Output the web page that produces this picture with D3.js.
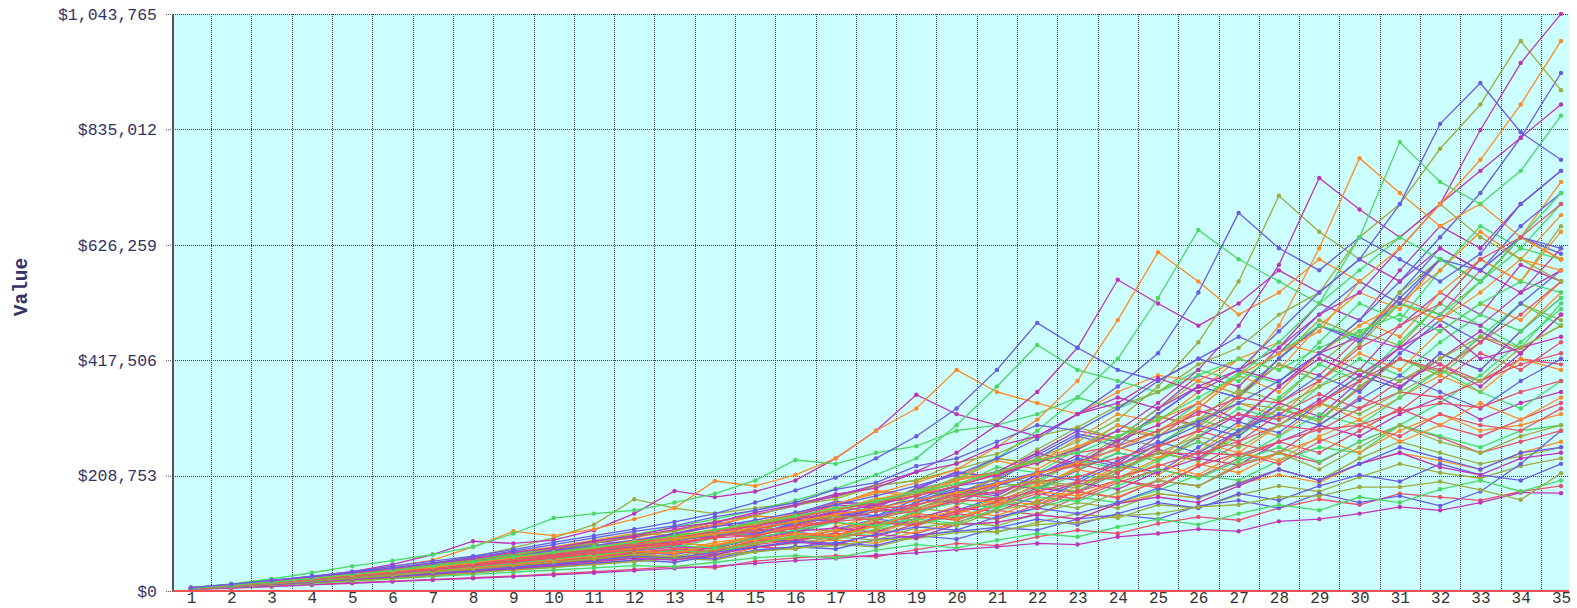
<!DOCTYPE html>
<html>
<head>
<meta charset="utf-8">
<script src="https://cdn.jsdelivr.net/npm/d3@7"></script>
<style>
  body { margin: 0; background: #fff; }
  .tick text { font-family: 'Liberation Mono', 'DejaVu Sans Mono', monospace; }
</style>
</head>
<body>
<div class="graph"><svg></svg></div>
<script>
// years on the category axis
const years = [1, 2, 3, 4, 5, 6, 7, 8, 9, 10, 11, 12, 13, 14, 15, 16, 17, 18, 19, 20,
  21, 22, 23, 24, 25, 26, 27, 28, 29, 30, 31, 32, 33, 34, 35]
const yTicks = [0, 208753, 417506, 626259, 835012, 1043765]

// simulated portfolio values, in thousands of dollars
const blueA = [6, 12, 19, 26, 34, 42, 51, 61, 72, 84, 96, 108, 118, 134, 146, 160, 184, 196, 226, 240, 270, 300, 290, 330, 380, 420, 400, 470, 540, 600, 700, 845, 919, 830, 780]
const greenA = [5, 10, 16, 23, 30, 37, 45, 53, 62, 70, 80, 88, 100, 110, 124, 136, 150, 162, 180, 194, 215, 236, 250, 280, 310, 350, 390, 450, 520, 640, 812, 740, 700, 760, 860]
const orangeA = [5, 11, 17, 23, 29, 36, 43, 51, 60, 70, 79, 90, 98, 110, 122, 136, 148, 166, 180, 200, 215, 236, 262, 280, 310, 340, 390, 430, 470, 560, 620, 700, 780, 880, 995]
const magentaA = [5, 11, 18, 25, 33, 41, 50, 58, 70, 78, 90, 100, 115, 124, 142, 156, 175, 186, 215, 230, 262, 280, 320, 340, 385, 360, 400, 440, 500, 540, 620, 700, 834, 955, 1044]
const oliveA = [5, 10, 16, 23, 30, 38, 46, 56, 64, 77, 86, 100, 108, 126, 136, 156, 166, 190, 200, 232, 248, 280, 296, 335, 360, 410, 440, 500, 540, 640, 700, 800, 880, 995, 906]
const redA = [4, 9, 15, 21, 28, 34, 41, 49, 58, 66, 75, 86, 98, 108, 118, 132, 148, 160, 172, 190, 212, 236, 250, 262, 290, 320, 350, 340, 380, 440, 480, 520, 600, 640, 700]

const blueB = [5, 11, 17, 24, 31, 38, 46, 55, 64, 73, 82, 92, 104, 116, 128, 142, 156, 172, 190, 210, 240, 275, 320, 370, 430, 540, 684, 620, 580, 640, 600, 560, 610, 700, 760]
const greenB = [5, 10, 16, 22, 29, 36, 43, 51, 60, 69, 78, 88, 99, 110, 121, 134, 148, 164, 182, 202, 240, 290, 350, 420, 530, 653, 600, 560, 520, 580, 640, 600, 560, 640, 720]
const orangeB = [5, 11, 17, 24, 31, 38, 46, 54, 62, 70, 78, 86, 94, 104, 114, 126, 138, 150, 164, 178, 194, 212, 232, 256, 290, 330, 390, 480, 620, 783, 720, 660, 700, 640, 600]
const magentaB = [4, 10, 16, 22, 29, 36, 44, 52, 60, 69, 78, 88, 98, 108, 118, 130, 142, 156, 172, 190, 210, 232, 256, 290, 340, 400, 480, 590, 747, 690, 640, 700, 760, 820, 880]
const oliveB = [5, 10, 15, 21, 28, 35, 42, 50, 58, 67, 76, 86, 96, 108, 120, 133, 146, 160, 176, 194, 214, 240, 270, 310, 370, 450, 560, 715, 650, 600, 640, 700, 640, 600, 560]
const redB = [5, 10, 16, 22, 28, 35, 42, 48, 54, 64, 74, 82, 88, 96, 112, 126, 140, 148, 156, 172, 192, 214, 226, 240, 262, 290, 320, 310, 340, 380, 420, 400, 450, 500, 560]

const blueC = [6, 12, 19, 27, 35, 45, 54, 63, 75, 88, 100, 112, 125, 140, 160, 182, 205, 240, 280, 330, 400, 485, 440, 400, 380, 420, 460, 430, 500, 560, 520, 600, 580, 640, 620]
const greenC = [5, 11, 17, 24, 32, 40, 48, 57, 67, 78, 90, 102, 116, 130, 146, 164, 185, 210, 240, 300, 370, 445, 400, 380, 360, 400, 380, 430, 480, 460, 520, 500, 560, 620, 600]
const orangeC = [5, 10, 16, 22, 29, 36, 43, 51, 60, 69, 78, 88, 98, 110, 124, 140, 158, 176, 196, 220, 260, 310, 380, 490, 613, 560, 500, 540, 600, 560, 520, 580, 650, 600, 680]
const magentaC = [5, 11, 17, 24, 31, 39, 47, 56, 65, 75, 86, 98, 111, 124, 138, 154, 172, 192, 216, 250, 300, 360, 440, 563, 520, 480, 520, 580, 540, 600, 560, 620, 580, 540, 620]
const oliveC = [5, 10, 15, 21, 27, 34, 41, 48, 56, 64, 73, 82, 92, 102, 112, 124, 136, 130, 150, 170, 186, 200, 190, 220, 250, 280, 260, 300, 340, 320, 360, 400, 380, 440, 480]
const redC = [4, 9, 14, 20, 26, 33, 40, 47, 54, 62, 70, 79, 88, 98, 108, 118, 128, 144, 150, 168, 180, 198, 206, 230, 250, 248, 270, 300, 290, 330, 360, 350, 380, 410, 430]

const blueD = [5, 10, 15, 21, 27, 33, 40, 47, 55, 63, 72, 81, 91, 101, 112, 124, 136, 150, 165, 180, 196, 214, 234, 256, 280, 306, 340, 380, 430, 490, 560, 640, 720, 820, 937]
const greenD = [6, 13, 22, 33, 45, 55, 66, 80, 104, 132, 140, 146, 160, 176, 200, 237, 230, 250, 262, 290, 300, 320, 350, 330, 360, 390, 420, 400, 440, 470, 500, 470, 520, 560, 540]
const orangeD = [5, 11, 18, 26, 34, 44, 56, 80, 108, 100, 112, 130, 150, 199, 190, 210, 240, 290, 330, 400, 360, 340, 320, 360, 390, 380, 420, 450, 430, 480, 520, 490, 540, 600, 580]
const magentaD = [5, 11, 18, 26, 35, 48, 66, 90, 86, 92, 110, 140, 181, 170, 180, 200, 240, 290, 355, 320, 300, 280, 320, 350, 330, 370, 400, 380, 430, 460, 440, 500, 480, 540, 580]
const oliveD = [5, 10, 16, 23, 31, 40, 50, 62, 78, 96, 120, 166, 150, 140, 150, 160, 170, 190, 200, 220, 240, 230, 260, 290, 280, 310, 340, 330, 370, 400, 380, 420, 460, 440, 480]
const redD = [5, 10, 15, 20, 26, 32, 38, 45, 52, 60, 68, 74, 85, 96, 100, 114, 126, 132, 146, 162, 166, 180, 198, 206, 226, 250, 246, 270, 292, 300, 326, 340, 332, 360, 380]

const blueE = [5, 10, 16, 22, 28, 35, 42, 49, 57, 65, 74, 80, 92, 100, 113, 130, 126, 150, 166, 160, 190, 212, 200, 236, 270, 250, 290, 320, 300, 346, 390, 360, 330, 380, 420]
const greenE = [4, 9, 14, 19, 25, 31, 37, 44, 50, 58, 65, 73, 82, 78, 96, 110, 124, 118, 144, 160, 150, 184, 210, 200, 236, 270, 240, 280, 320, 300, 350, 400, 360, 330, 380]
const orangeE = [5, 9, 14, 20, 25, 31, 37, 43, 49, 56, 63, 72, 68, 84, 92, 104, 100, 118, 140, 130, 156, 180, 172, 200, 230, 210, 250, 236, 280, 310, 270, 300, 340, 310, 350]
const magentaE = [5, 10, 16, 22, 29, 36, 44, 52, 61, 70, 80, 90, 101, 96, 124, 137, 156, 150, 184, 200, 216, 250, 230, 272, 300, 340, 310, 370, 420, 390, 440, 480, 420, 440, 460]
const oliveE = [4, 8, 13, 18, 23, 28, 34, 40, 46, 52, 58, 66, 62, 76, 86, 98, 94, 110, 126, 118, 146, 160, 150, 178, 200, 190, 230, 250, 220, 260, 300, 270, 250, 280, 300]
const redE = [4, 9, 13, 18, 24, 29, 35, 41, 47, 54, 61, 68, 76, 72, 90, 104, 100, 124, 120, 144, 160, 150, 180, 200, 190, 226, 250, 230, 270, 300, 280, 320, 300, 290, 330]

const blueF = [4, 8, 12, 17, 22, 27, 32, 37, 43, 49, 55, 63, 60, 70, 80, 90, 86, 102, 116, 110, 134, 150, 140, 160, 186, 170, 194, 220, 200, 230, 260, 240, 220, 250, 260]
const greenF = [5, 9, 14, 19, 24, 29, 36, 40, 48, 53, 60, 67, 74, 70, 86, 100, 96, 118, 130, 122, 150, 170, 162, 190, 220, 204, 236, 260, 234, 270, 300, 280, 260, 290, 300]
const orangeF = [4, 9, 15, 21, 27, 33, 40, 47, 54, 62, 70, 78, 87, 82, 100, 118, 124, 114, 146, 166, 160, 192, 220, 204, 240, 270, 250, 300, 340, 310, 350, 390, 360, 420, 400]
const magentaF = [4, 8, 12, 16, 21, 26, 31, 36, 41, 47, 53, 59, 56, 66, 79, 88, 84, 103, 96, 120, 124, 138, 130, 158, 170, 160, 190, 220, 200, 230, 250, 224, 210, 240, 250]
const oliveF = [3, 7, 11, 15, 19, 23, 28, 33, 38, 43, 48, 53, 59, 65, 71, 78, 82, 92, 95, 106, 108, 120, 124, 136, 140, 152, 156, 170, 172, 188, 188, 198, 183, 165, 213]
const redF = [4, 9, 13, 18, 23, 28, 33, 39, 45, 51, 57, 64, 71, 66, 84, 92, 104, 98, 122, 140, 130, 156, 180, 168, 200, 190, 226, 250, 232, 270, 300, 278, 250, 270, 290]

const blueG = [3, 7, 11, 15, 20, 24, 29, 34, 39, 44, 50, 56, 52, 64, 72, 80, 76, 93, 100, 94, 114, 130, 120, 140, 160, 150, 176, 164, 190, 210, 198, 230, 210, 200, 230]
const greenG = [3, 7, 11, 14, 18, 22, 26, 30, 34, 38, 42, 46, 44, 52, 60, 64, 60, 74, 84, 78, 92, 104, 98, 116, 130, 120, 140, 156, 146, 170, 160, 184, 200, 180, 200]
const orangeG = [4, 8, 13, 18, 23, 29, 35, 41, 47, 53, 61, 66, 76, 72, 92, 96, 110, 104, 128, 146, 136, 164, 180, 170, 200, 230, 214, 250, 276, 250, 290, 320, 290, 300, 320]
const magentaG = [3, 5, 8, 11, 14, 17, 20, 23, 26, 29, 33, 37, 41, 45, 50, 55, 59, 65, 69, 75, 80, 86, 84, 98, 104, 112, 108, 126, 130, 140, 152, 146, 160, 178, 177]
const oliveG = [4, 8, 12, 17, 22, 27, 32, 37, 43, 49, 55, 61, 58, 70, 81, 86, 98, 92, 114, 124, 118, 140, 160, 150, 176, 168, 196, 220, 200, 240, 270, 250, 230, 244, 260]
const redG = [5, 9, 14, 19, 24, 30, 36, 42, 48, 55, 62, 69, 76, 72, 92, 102, 98, 120, 136, 128, 154, 176, 166, 196, 220, 206, 240, 270, 250, 290, 330, 300, 280, 310, 340]

const blueH = [4, 8, 12, 16, 21, 25, 30, 35, 40, 45, 50, 56, 62, 58, 74, 80, 87, 82, 101, 108, 115, 110, 130, 138, 130, 154, 164, 150, 176, 160, 172, 154, 180, 230, 290]
const greenH = [4, 9, 13, 18, 24, 29, 35, 41, 47, 53, 59, 66, 73, 70, 88, 96, 104, 100, 121, 136, 130, 150, 170, 160, 182, 210, 200, 236, 260, 250, 300, 340, 390, 450, 510]
const orangeH = [4, 8, 12, 16, 21, 26, 31, 36, 41, 47, 52, 60, 64, 60, 78, 88, 92, 86, 108, 120, 124, 138, 130, 158, 176, 168, 194, 210, 196, 230, 250, 236, 220, 250, 270]
const magentaH = [5, 10, 15, 20, 26, 32, 38, 44, 51, 58, 65, 72, 80, 76, 97, 108, 114, 106, 132, 150, 144, 172, 196, 184, 216, 240, 228, 270, 300, 280, 320, 350, 310, 340, 360]
const oliveH = [3, 7, 11, 15, 19, 24, 28, 33, 38, 43, 48, 53, 59, 56, 71, 77, 84, 80, 98, 110, 106, 124, 140, 132, 156, 150, 174, 190, 180, 206, 230, 214, 204, 226, 240]
const redH = [3, 6, 9, 12, 15, 18, 21, 24, 27, 31, 35, 39, 44, 42, 54, 60, 64, 62, 75, 86, 82, 98, 110, 104, 122, 134, 128, 150, 166, 156, 176, 170, 164, 180, 190]

const blueI = [5, 11, 18, 24, 30, 38, 44, 54, 60, 70, 76, 88, 96, 110, 104, 122, 140, 134, 160, 186, 176, 210, 240, 226, 266, 300, 280, 340, 390, 360, 430, 490, 450, 520, 580]
const greenI = [4, 9, 15, 22, 27, 34, 42, 48, 58, 64, 74, 82, 78, 96, 110, 104, 126, 146, 140, 170, 196, 186, 220, 250, 236, 280, 330, 310, 370, 420, 390, 450, 500, 470, 530]
const orangeI = [6, 12, 18, 25, 33, 40, 48, 58, 66, 78, 88, 96, 110, 120, 136, 130, 156, 180, 170, 200, 236, 220, 260, 300, 280, 330, 390, 360, 430, 490, 460, 540, 600, 560, 650]
const magentaI = [5, 10, 17, 23, 30, 36, 44, 50, 60, 66, 76, 86, 82, 98, 112, 106, 128, 150, 140, 166, 196, 184, 218, 250, 236, 278, 320, 300, 346, 400, 370, 420, 470, 430, 500]
const oliveI = [4, 9, 14, 20, 26, 32, 38, 46, 52, 60, 66, 76, 86, 82, 100, 114, 108, 130, 150, 142, 168, 196, 186, 220, 250, 236, 286, 330, 306, 370, 420, 390, 450, 520, 490]
const redI = [5, 10, 16, 21, 28, 33, 40, 47, 55, 62, 72, 80, 90, 104, 98, 118, 136, 128, 156, 176, 166, 206, 230, 214, 260, 290, 270, 320, 356, 330, 380, 410, 380, 420, 410]

const blueJ = [4, 9, 14, 19, 25, 30, 36, 43, 48, 56, 62, 70, 66, 80, 94, 90, 112, 130, 122, 146, 170, 160, 196, 230, 214, 260, 306, 286, 340, 390, 366, 430, 400, 470, 530]
const greenJ = [5, 11, 17, 23, 30, 36, 43, 52, 58, 68, 76, 84, 94, 104, 100, 118, 136, 128, 154, 180, 168, 200, 236, 222, 266, 310, 290, 350, 410, 380, 450, 520, 480, 440, 520]
const orangeJ = [4, 8, 13, 19, 24, 30, 36, 42, 50, 56, 64, 72, 68, 84, 96, 92, 110, 126, 120, 140, 164, 156, 190, 226, 210, 252, 300, 280, 336, 390, 366, 430, 400, 470, 540]
const magentaJ = [5, 10, 15, 22, 28, 34, 41, 48, 56, 64, 72, 80, 92, 104, 100, 120, 138, 130, 160, 182, 172, 210, 246, 230, 280, 326, 306, 370, 430, 400, 480, 540, 500, 590, 560]
const oliveJ = [5, 11, 17, 24, 31, 38, 46, 54, 64, 72, 82, 92, 104, 100, 120, 138, 130, 156, 182, 172, 204, 240, 226, 270, 316, 296, 350, 410, 380, 446, 520, 490, 560, 640, 600]
const redJ = [3, 8, 12, 17, 22, 27, 32, 38, 43, 50, 56, 62, 58, 72, 80, 76, 96, 110, 104, 124, 146, 138, 170, 200, 186, 226, 266, 250, 300, 350, 326, 380, 430, 400, 450]

const blueK = [5, 10, 16, 22, 29, 35, 42, 50, 56, 66, 74, 82, 94, 106, 102, 124, 146, 136, 166, 190, 200, 240, 280, 262, 320, 370, 350, 420, 480, 450, 530, 600, 560, 640, 610]
const greenK = [4, 8, 13, 18, 23, 28, 34, 40, 46, 52, 58, 66, 74, 70, 86, 98, 94, 112, 136, 130, 160, 190, 180, 214, 250, 236, 280, 330, 310, 370, 420, 396, 460, 520, 480]
const orangeK = [5, 10, 15, 21, 27, 33, 39, 46, 53, 60, 68, 76, 72, 88, 98, 94, 116, 136, 128, 154, 196, 186, 224, 260, 240, 290, 340, 316, 380, 430, 400, 470, 520, 490, 560]
const magentaK = [4, 9, 14, 20, 25, 31, 37, 44, 50, 57, 64, 72, 82, 78, 94, 106, 100, 122, 140, 132, 156, 186, 178, 214, 256, 240, 290, 340, 316, 380, 440, 410, 370, 430, 500]
const oliveK = [5, 10, 16, 23, 29, 36, 44, 52, 60, 68, 78, 88, 98, 112, 106, 130, 152, 144, 174, 204, 214, 256, 296, 276, 330, 380, 356, 420, 490, 460, 540, 600, 560, 640, 600]
const redK = [4, 9, 14, 19, 25, 31, 37, 43, 50, 57, 64, 72, 68, 82, 92, 88, 106, 124, 118, 140, 162, 190, 180, 220, 250, 236, 290, 330, 310, 366, 420, 396, 460, 430, 500]

const blueL = [5, 11, 17, 24, 32, 40, 48, 57, 66, 76, 86, 98, 110, 124, 120, 140, 162, 156, 184, 214, 206, 246, 284, 270, 320, 370, 350, 420, 480, 456, 540, 620, 580, 660, 720]
const greenL = [5, 10, 16, 23, 30, 38, 46, 54, 64, 74, 84, 80, 96, 110, 126, 120, 144, 168, 160, 190, 224, 214, 256, 300, 286, 340, 396, 376, 450, 520, 490, 580, 660, 620, 700]
const orangeL = [6, 12, 19, 26, 34, 42, 51, 60, 70, 80, 92, 104, 100, 118, 136, 130, 156, 182, 174, 206, 240, 230, 276, 320, 306, 360, 420, 400, 480, 540, 510, 600, 560, 640, 740]
const magentaL = [5, 11, 17, 25, 32, 40, 49, 58, 68, 78, 90, 86, 104, 120, 116, 138, 160, 154, 186, 216, 206, 250, 290, 276, 330, 390, 370, 440, 520, 490, 580, 660, 620, 700, 760]
const oliveL = [4, 9, 15, 21, 28, 35, 42, 50, 59, 68, 78, 88, 84, 100, 116, 110, 132, 154, 148, 176, 206, 196, 236, 276, 262, 310, 364, 344, 410, 470, 444, 520, 600, 560, 660]
const redL = [5, 10, 16, 22, 29, 36, 44, 52, 61, 70, 80, 90, 102, 98, 116, 134, 128, 154, 180, 172, 204, 240, 228, 270, 316, 300, 356, 410, 390, 460, 530, 500, 580, 640, 600]

const seriesValues = [
  blueA, greenA, orangeA, magentaA, oliveA, redA,
  blueB, greenB, orangeB, magentaB, oliveB, redB,
  blueC, greenC, orangeC, magentaC, oliveC, redC,
  blueD, greenD, orangeD, magentaD, oliveD, redD,
  blueE, greenE, orangeE, magentaE, oliveE, redE,
  blueF, greenF, orangeF, magentaF, oliveF, redF,
  blueG, greenG, orangeG, magentaG, oliveG, redG,
  blueH, greenH, orangeH, magentaH, oliveH, redH,
  blueI, greenI, orangeI, magentaI, oliveI, redI,
  blueJ, greenJ, orangeJ, magentaJ, oliveJ, redJ,
  blueK, greenK, orangeK, magentaK, oliveK, redK,
  blueL, greenL, orangeL, magentaL, oliveL, redL
]

const palette = ['#6a5ae6', '#4ad862', '#ff8a26', '#bf33b8', '#9caa3e', '#e8506a']

const width = 1577
const height = 608
const plot = { left: 173, right: 1569, top: 14, bottom: 591 }

const svg = d3.select('.graph').select('svg')
  .attr('width', width)
  .attr('height', height)

const xScale = d3.scalePoint().domain(years).range([191, 1561])
const yScale = d3.scaleLinear().domain([0, 1043765]).range([plot.bottom, plot.top])
const colorScale = d3.scaleOrdinal().domain(d3.range(6)).range(palette)

// plot background
svg.append('rect')
  .attr('x', plot.left)
  .attr('y', plot.top)
  .attr('width', plot.right - plot.left)
  .attr('height', plot.bottom - plot.top)
  .attr('fill', '#ccffff')

// dotted gridlines between the categories
const grid = svg.append('g').attr('class', 'grid')
grid.selectAll('line.v')
  .data(years.slice(0, -1))
  .join('line')
  .attr('class', 'v')
  .attr('x1', d => Math.round(xScale(d) + xScale.step() / 2) + 0.5)
  .attr('x2', d => Math.round(xScale(d) + xScale.step() / 2) + 0.5)
  .attr('y1', plot.top)
  .attr('y2', plot.bottom)

grid.selectAll('line.h')
  .data(yTicks)
  .join('line')
  .attr('class', 'h')
  .attr('x1', plot.left)
  .attr('x2', plot.right)
  .attr('y1', d => Math.round(yScale(d)) + 0.5)
  .attr('y2', d => Math.round(yScale(d)) + 0.5)

grid.selectAll('line')
  .attr('stroke', '#404040')
  .attr('stroke-width', 1)
  .attr('stroke-dasharray', '1,1')

// y axis
const yAxis = svg.append('g')
  .attr('class', 'y axis')
  .attr('transform', 'translate(' + plot.left + ',0)')
  .call(d3.axisLeft(yScale)
    .tickValues(yTicks)
    .tickFormat(d => '$' + d3.format(',')(d))
    .tickSize(7)
    .tickPadding(9))
yAxis.select('.domain').remove()
yAxis.selectAll('.tick line')
  .attr('stroke', '#505050')
  .attr('stroke-dasharray', '1,1')
yAxis.selectAll('.tick text')
  .attr('fill', '#333366')
  .attr('font-size', 16.5)

// x axis
const xAxis = svg.append('g')
  .attr('class', 'x axis')
  .attr('transform', 'translate(0,' + plot.bottom + ')')
  .call(d3.axisBottom(xScale).tickSize(0).tickPadding(1))
xAxis.select('.domain').remove()
xAxis.selectAll('.tick text')
  .attr('fill', '#333')
  .attr('font-size', 16)

// series lines and markers; the outer paths are drawn last so they stay on top
const seriesData = seriesValues
  .map((values, i) => ({ values, color: colorScale(i % 6) }))
  .reverse()

const line = d3.line()
  .x((d, i) => xScale(years[i]))
  .y(d => yScale(d * 1000))

const series = svg.append('g').attr('class', 'series')
  .selectAll('g')
  .data(seriesData)
  .join('g')
  .attr('fill', d => d.color)
  .attr('stroke', d => d.color)

series.append('path')
  .attr('d', d => line(d.values))
  .attr('fill', 'none')
  .attr('stroke-width', 1.3)

series.selectAll('circle')
  .data(d => d.values)
  .join('circle')
  .attr('cx', (d, i) => xScale(years[i]))
  .attr('cy', d => yScale(d * 1000))
  .attr('r', 2.2)
  .attr('stroke', 'none')

// plot frame: left axis line and red baseline
svg.append('line')
  .attr('x1', plot.left)
  .attr('x2', plot.left)
  .attr('y1', plot.top)
  .attr('y2', plot.bottom)
  .attr('stroke', '#555')
  .attr('stroke-width', 2)

svg.append('line')
  .attr('x1', plot.left)
  .attr('x2', plot.right)
  .attr('y1', plot.bottom)
  .attr('y2', plot.bottom)
  .attr('stroke', '#f05050')
  .attr('stroke-width', 2)

// axis title
svg.append('text')
  .text('Value')
  .attr('transform', 'translate(27,287) rotate(-90)')
  .attr('text-anchor', 'middle')
  .attr('font-family', "'Liberation Mono', 'DejaVu Sans Mono', monospace")
  .attr('font-weight', 'bold')
  .attr('font-size', 19.5)
  .attr('fill', '#333366')
</script>
</body>
</html>
